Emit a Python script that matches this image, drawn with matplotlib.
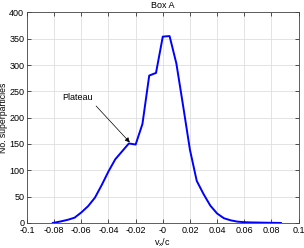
"""Velocity distribution histogram for Box A, MATLAB-like styling."""

import matplotlib

matplotlib.use("Agg")

import matplotlib.pyplot as plt
from matplotlib.ticker import FuncFormatter, MultipleLocator

# v_x / c bin positions and particle counts
vx = [-0.081, -0.075, -0.070, -0.065, -0.060, -0.055, -0.050, -0.045,
      -0.040, -0.035, -0.030, -0.025, -0.020, -0.015, -0.010, -0.005,
      0.000, 0.005, 0.010, 0.015, 0.020, 0.025, 0.030, 0.035, 0.040,
      0.045, 0.050, 0.055, 0.060, 0.065, 0.070, 0.075, 0.080, 0.087]
counts = [0, 3, 6, 10, 20, 32, 48, 72,
          98, 121, 136, 151, 149, 188, 280, 285,
          354, 355, 303, 222, 139, 80, 55, 33, 18,
          9, 5, 2.5, 1.5, 1, 0.8, 0.5, 0.3, 0]

title = "Box A"
xlabel = "v$_x$/c"
ylabel = "No. superparticles"
note = "Plateau"
note_xy = (-0.0243, 153)
note_text_xy = (-0.063, 238)

plt.rcParams["font.family"] = ["Liberation Sans", "DejaVu Sans"]
plt.rcParams["mathtext.fontset"] = "custom"
plt.rcParams["mathtext.rm"] = "Liberation Sans"
plt.rcParams["mathtext.it"] = "Liberation Sans"

fig = plt.figure(figsize=(3.04, 2.48), dpi=100)
ax = fig.add_axes([0.089, 0.101, 0.893, 0.849])

ax.plot(vx, counts, color="#0000ff", lw=1.4)

ax.set_xlim(-0.1, 0.1)
ax.set_ylim(0, 400)
ax.xaxis.set_major_locator(MultipleLocator(0.02))
ax.yaxis.set_major_locator(MultipleLocator(50))
ax.xaxis.set_major_formatter(FuncFormatter(lambda v, _: "%g" % round(v, 3)))
ax.grid(True, color="#dedede", lw=0.6)
ax.set_axisbelow(True)

ax.tick_params(direction="in", length=3, width=0.6, labelsize=6.5,
               top=True, right=True, pad=2, colors="#333333",
               labelcolor="black")
for s in ax.spines.values():
    s.set_linewidth(0.6)
    s.set_color("#444444")

ax.set_title(title, fontsize=6.5, pad=3)
ax.set_xlabel(xlabel, fontsize=6.5, labelpad=1)
ax.set_ylabel(ylabel, fontsize=6.2)
ax.yaxis.set_label_coords(-0.07, 0.5)

ax.annotate(note, xy=note_xy, xytext=note_text_xy, fontsize=6.5,
            ha="center", va="center",
            arrowprops=dict(arrowstyle="-|>", color="black", lw=0.5,
                            mutation_scale=7, relpos=(1.0, 0.0),
                            shrinkA=1, shrinkB=0))

fig.savefig("out.png", dpi=100)
